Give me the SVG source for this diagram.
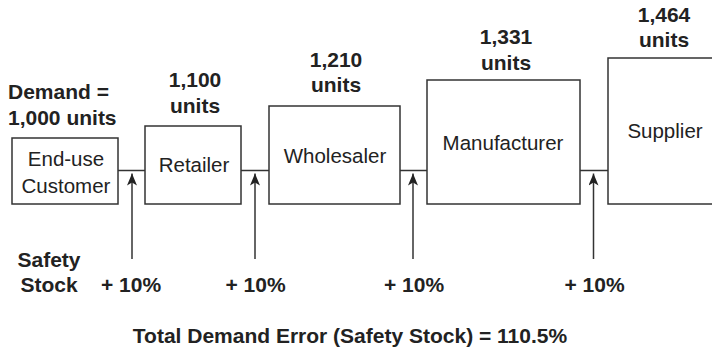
<svg xmlns="http://www.w3.org/2000/svg" width="712" height="351" viewBox="0 0 712 351">
  <defs>
    <style>
      .box { fill: #ffffff; stroke: #333333; stroke-width: 1.5; }
      .link { fill: none; stroke: #333333; stroke-width: 1.5; }
      .name { font-family: "Liberation Sans", Arial, sans-serif; font-size: 20.5px; fill: #222222; text-anchor: middle; }
      .qty { font-family: "Liberation Sans", Arial, sans-serif; font-size: 21px; font-weight: bold; fill: #222222; text-anchor: middle; }
      .left { text-anchor: start; }
    </style>
    <marker id="head" viewBox="0 0 12 10" refX="12" refY="5" markerWidth="12" markerHeight="10" markerUnits="userSpaceOnUse" orient="auto">
      <path d="M0,0 L12,5 L0,10 L3,5 Z" fill="#222222"/>
    </marker>
  </defs>
  <rect width="712" height="351" fill="#ffffff"/>

  <!-- connectors between stages and safety-stock arrows -->
  <g id="connectors">
    <line class="link" x1="118" y1="170.5" x2="145" y2="170.5"/>
    <line class="link" x1="241" y1="170.5" x2="269" y2="170.5"/>
    <line class="link" x1="400" y1="170.5" x2="427" y2="170.5"/>
    <line class="link" x1="580" y1="170.5" x2="608" y2="170.5"/>
    <line class="link" x1="132" y1="259" x2="132" y2="173.5" marker-end="url(#head)"/>
    <line class="link" x1="255" y1="259" x2="255" y2="173.5" marker-end="url(#head)"/>
    <line class="link" x1="413" y1="259" x2="413" y2="173.5" marker-end="url(#head)"/>
    <line class="link" x1="593.5" y1="259" x2="593.5" y2="173.5" marker-end="url(#head)"/>
  </g>

  <g id="customer">
    <rect class="box" x="12" y="138" width="106" height="66"/>
    <text class="name" x="66" y="166">End-use</text>
    <text class="name" x="66" y="193">Customer</text>
    <text class="qty left" x="8" y="99">Demand =</text>
    <text class="qty left" x="8" y="125">1,000 units</text>
  </g>

  <g id="retailer">
    <rect class="box" x="145" y="126" width="96" height="78"/>
    <text class="name" x="194" y="172">Retailer</text>
    <text class="qty" x="195" y="87">1,100</text>
    <text class="qty" x="195" y="113">units</text>
  </g>

  <g id="wholesaler">
    <rect class="box" x="269" y="106" width="131" height="98"/>
    <text class="name" x="335" y="163">Wholesaler</text>
    <text class="qty" x="336" y="67">1,210</text>
    <text class="qty" x="336" y="92">units</text>
  </g>

  <g id="manufacturer">
    <rect class="box" x="427" y="80" width="153" height="124"/>
    <text class="name" x="503" y="150">Manufacturer</text>
    <text class="qty" x="506" y="44">1,331</text>
    <text class="qty" x="506" y="70">units</text>
  </g>

  <g id="supplier">
    <rect class="box" x="608" y="58" width="120" height="146"/>
    <text class="name" x="665" y="138">Supplier</text>
    <text class="qty" x="664" y="22">1,464</text>
    <text class="qty" x="664" y="47">units</text>
  </g>

  <g id="safety-stock">
    <text class="qty" x="49" y="267">Safety</text>
    <text class="qty" x="49" y="292">Stock</text>
    <text class="qty" x="131" y="292">+ 10%</text>
    <text class="qty" x="255.5" y="292">+ 10%</text>
    <text class="qty" x="414" y="292">+ 10%</text>
    <text class="qty" x="594.5" y="292">+ 10%</text>
  </g>

  <g id="total">
    <text class="qty" x="350" y="343">Total Demand Error (Safety Stock) = 110.5%</text>
  </g>
</svg>
